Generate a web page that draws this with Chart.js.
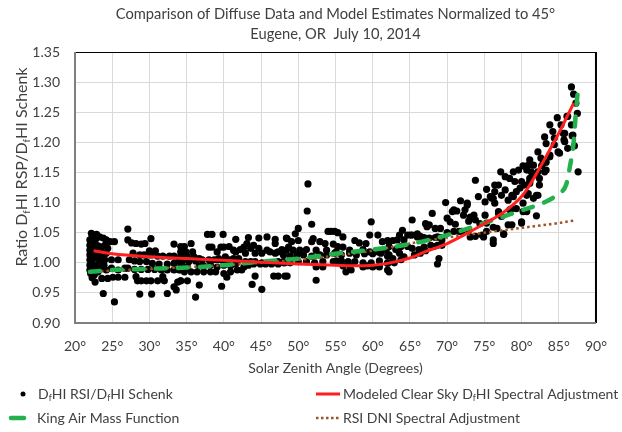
<!DOCTYPE html>
<html>
<head>
<meta charset="utf-8">
<script src="https://cdn.jsdelivr.net/npm/chart.js@4.4.0/dist/chart.umd.min.js"></script>
<style>
  html, body { margin: 0; padding: 0; background: #fff; }
  #wrap { width: 622px; height: 432px; }
</style>
</head>
<body>
<div id="wrap"><canvas id="chart" width="622" height="432"></canvas></div>
<script>
// Ejes
const zenithTicks = [20, 25, 30, 35, 40, 45, 50, 55, 60, 65, 70, 75, 80, 85, 90];
const ratioTicks = [0.90, 0.95, 1.00, 1.05, 1.10, 1.15, 1.20, 1.25, 1.30, 1.35];

// Titulo del grafico
const chartTitle = ['Comparison of Diffuse Data and Model Estimates Normalized to 45°', 'Eugene, OR  July 10, 2014'];

// DfHI RSI / DfHI Schenk  [angulo cenital, cociente]
const rsiSchenk = [
    // 22-35
    [22.2,1.049],[22.9,1.047],[23.3,1.043],[23.8,1.041],[24.2,1.038],[24.7,1.035],[25.3,1.035],
    [22.0,1.038],[22.0,1.029],[22.0,1.021],[22.0,1.013],[22.0,1.005],[22.0,0.996],[22.0,0.988],[22.1,0.982],
    [22.7,1.032],[23.1,1.028],[23.6,1.026],[24.0,1.029],[24.4,1.024],
    [22.7,1.018],[23.6,1.016],[24.2,1.016],
    [22.4,1.007],[23.1,1.007],[24.0,1.005],[24.9,1.005],[25.8,1.005],
    [22.4,0.993],[23.3,0.991],[24.2,0.988],[24.9,0.991],[25.8,0.988],[26.7,0.991],
    [22.7,0.968],[23.6,0.974],[24.4,0.974],[25.1,0.976],[25.8,0.976],[26.7,0.976],
    [22.3,1.043],[22.5,1.036],[22.8,1.040],[23.0,1.022],[22.5,1.024],[22.9,1.012],[23.4,1.020],[23.8,1.010],
    [22.3,0.999],[22.8,0.996],[23.3,0.999],[23.9,0.996],[22.6,0.980],[23.1,0.985],[22.3,0.975],
    [23.8,0.949],[25.3,0.935],
    [27.1,1.056],[27.1,1.038],[27.6,1.033],[28.2,1.032],[28.9,1.031],[29.4,1.032],[30.2,1.040],[30.0,1.020],[30.8,1.020],[33.3,1.031],[34.2,1.027],[34.4,1.020],
    [27.8,1.016],[28.7,1.013],[29.3,1.013],[30.2,1.013],[31.1,1.011],[31.8,1.011],[32.7,1.011],[33.3,1.011],[34.2,1.011],
    [27.3,1.005],[28.0,1.003],[28.7,1.002],[29.6,1.002],[30.4,0.999],[31.3,0.998],[32.4,0.998],[33.3,0.999],[34.2,0.998],
    [27.1,0.991],[28.0,0.989],[28.9,0.989],[29.8,0.989],[30.7,0.989],[31.6,0.988],[32.4,0.988],[33.3,0.988],[34.2,0.988],[34.7,0.988],
    [28.2,0.977],[28.4,0.970],[28.9,0.970],[29.6,0.970],[30.2,0.970],[31.1,0.970],[31.8,0.977],[32.0,0.970],[33.3,0.960],[33.8,0.968],[34.2,0.970],[33.6,0.955],
    [28.7,0.948],[30.3,0.948],[32.4,0.949],
    // 34-48
    [37.8,1.047],[38.4,1.047],[39.9,1.047],
    [41.6,1.039],[43.3,1.042],[44.7,1.041],[45.8,1.043],[46.9,1.039],[48.4,1.041],
    [35.6,1.032],[34.7,1.027],[43.1,1.032],[44.0,1.029],[46.9,1.032],
    [38.0,1.026],[38.4,1.026],[39.6,1.026],[40.0,1.026],[40.7,1.027],[41.3,1.021],[42.2,1.022],[42.7,1.026],[43.6,1.024],[44.7,1.024],[45.8,1.021],[46.2,1.018],[47.3,1.018],[47.8,1.022],[48.7,1.026],
    [34.2,1.018],[34.9,1.018],[35.8,1.018],[39.1,1.018],[41.6,1.018],[42.9,1.016],[44.2,1.016],[45.1,1.016],[46.9,1.016],
    [34.4,1.013],[35.1,1.010],[36.0,1.010],[36.7,1.007],[39.3,1.007],[40.2,1.010],[41.3,1.007],[42.0,1.007],
    [34.0,1.004],[34.7,1.005],[35.3,1.002],[36.2,1.003],[37.1,1.005],[38.0,1.005],[38.7,1.005],[39.3,1.005],[40.0,1.003],[40.7,1.005],[41.8,1.002],[42.9,1.002],[43.6,1.002],[44.2,1.002],[45.1,1.000],[45.8,1.000],[46.7,1.000],[47.3,1.002],[48.0,1.000],[48.7,1.003],
    [34.4,0.996],[35.1,0.993],[36.7,0.995],[37.3,0.995],[38.2,0.996],[39.1,0.993],[40.0,0.996],[40.9,0.995],[41.6,0.998],[42.7,0.993],[43.3,0.996],[44.0,0.998],[44.9,0.998],[45.6,0.998],[46.4,0.998],[47.3,0.998],[48.2,1.000],
    [34.0,0.988],[34.7,0.985],[35.6,0.985],[36.4,0.985],[37.3,0.985],[38.2,0.985],[38.9,0.985],[40.0,0.982],[40.9,0.985],[41.8,0.988],[42.4,0.988],
    [40.4,0.976],[44.2,0.978],[46.7,0.978],[47.3,0.978],[48.2,0.978],
    [34.2,0.970],[35.1,0.970],[36.7,0.963],[39.7,0.961],[43.8,0.964],[45.1,0.956],[36.2,0.943],
    // 48-62
    [51.3,1.131],[51.2,1.086],[51.8,1.064],[50.0,1.057],[49.6,1.048],[48.5,1.040],[49.1,1.035],[50.0,1.037],[52.0,1.040],[51.8,1.035],
    [54.0,1.052],[54.4,1.052],[54.9,1.052],[55.3,1.050],[56.0,1.043],
    [52.9,1.035],[53.6,1.032],[54.7,1.031],[55.3,1.027],[56.0,1.026],[56.9,1.021],[57.6,1.037],[58.2,1.033],[59.1,1.032],[59.8,1.068],[59.6,1.046],[60.7,1.046],[61.3,1.035],[62.2,1.035],
    [48.4,1.021],[49.3,1.021],[50.2,1.021],[51.1,1.022],[52.4,1.021],[53.8,1.021],[55.1,1.018],[58.7,1.022],[59.6,1.018],[60.7,1.018],[61.8,1.021],
    [48.0,1.013],[48.9,1.011],[49.8,1.013],[50.7,1.013],[51.8,1.011],[52.9,1.013],[53.8,1.013],[54.9,1.016],[55.8,1.013],[56.9,1.016],[57.8,1.013],[58.9,1.015],[60.0,1.015],[61.1,1.016],[62.2,1.013],
    [48.0,1.002],[48.9,1.000],[50.0,1.002],[51.1,1.002],[52.2,1.000],[53.3,1.002],[54.7,1.002],[55.8,1.003],[56.7,1.002],[57.6,1.002],[58.7,1.000],[59.8,1.000],[60.9,1.003],[62.0,1.000],
    [52.4,0.993],[53.3,0.993],[55.1,1.003],[56.0,0.995],[56.9,0.995],[58.7,0.993],[59.3,0.995],[60.0,0.993],[60.9,0.993],
    [62.2,0.985],[48.5,0.978],[52.4,0.971],[56.4,0.985],[57.1,0.988],
    // 62-76
    [73.8,1.137],[75.3,1.122],[76.4,1.129],[74.2,1.110],[75.1,1.101],[76.2,1.107],[69.8,1.100],[71.8,1.103],[72.7,1.096],[72.4,1.088],[70.9,1.088],[71.3,1.086],[72.2,1.079],[73.1,1.076],[73.8,1.071],
    [70.0,1.074],[70.4,1.068],[71.1,1.064],[72.9,1.069],[74.4,1.065],[75.3,1.066],[76.2,1.059],[68.0,1.082],[65.3,1.071],[67.1,1.065],[67.6,1.063],[68.4,1.057],[69.1,1.057],[70.0,1.050],[70.9,1.052],
    [72.0,1.052],[72.9,1.054],[73.8,1.044],[74.7,1.046],[75.3,1.052],[64.0,1.054],[64.7,1.046],[65.3,1.046],[66.0,1.048],[66.4,1.044],[66.9,1.042],[67.6,1.041],[68.4,1.042],[69.1,1.042],
    [62.0,1.037],[62.7,1.037],[63.3,1.038],[64.2,1.038],[62.2,1.027],[63.1,1.022],[63.8,1.027],[64.7,1.027],[65.3,1.024],[66.2,1.022],[66.9,1.026],[67.8,1.029],[68.7,1.029],[69.3,1.029],
    [62.0,1.011],[62.7,1.007],[63.6,1.016],[64.2,1.010],[65.6,1.013],[66.4,1.016],[67.1,1.020],[62.0,0.999],[62.9,1.000],[63.8,1.005],[68.9,1.007],[68.7,0.998],[62.0,0.988],
    [76.2,1.032],[77.6,1.048],[80.0,1.066],[82.0,1.078],[80.7,1.085],
    [72.7,1.099],[70.7,1.085],[73.6,1.079],[75.1,1.079],[76.9,1.082],[78.7,1.090],[80.2,1.085],[78.2,1.063],
    [74.9,1.043],[73.1,1.043],[71.6,1.052],[68.7,1.043],[67.3,1.060],[63.6,1.046],[65.1,1.046],[66.0,1.043],[66.9,1.040],[68.2,1.027],[69.3,1.038],
    // 76-88
    [86.7,1.292],[87.0,1.280],[87.3,1.265],[87.5,1.248],[87.6,1.151],[87.1,1.194],[86.1,1.243],[84.8,1.241],[85.3,1.229],[83.8,1.229],[84.2,1.218],[83.1,1.209],[84.4,1.207],[85.8,1.215],
    [86.8,1.211],[85.7,1.204],[83.3,1.198],[84.4,1.196],[86.2,1.190],[85.1,1.182],[83.8,1.179],[82.6,1.174],[83.3,1.167],[81.6,1.162],[80.9,1.162],[80.2,1.161],[80.7,1.154],[79.6,1.154],
    [78.9,1.151],[77.2,1.151],[77.8,1.143],[78.4,1.140],[79.1,1.135],[80.0,1.135],[81.3,1.151],[82.2,1.151],[83.1,1.151],[82.7,1.161],[81.8,1.146],[81.1,1.140],[80.4,1.129],[79.8,1.124],
    [76.9,1.129],[77.8,1.121],[76.4,1.118],[77.3,1.112],[79.3,1.118],[78.7,1.112],[80.9,1.115],[82.2,1.112],[81.6,1.107],[76.0,1.107],[76.4,1.099],[78.2,1.104],[80.2,1.099],[79.3,1.090],
    [78.4,1.088],[76.9,1.085],[77.3,1.077],[78.7,1.063],[80.0,1.068],[76.7,1.057],[77.6,1.047],[76.2,1.038],[82.4,1.129],[81.1,1.135],
    [81.1,1.171],[83.3,1.154],[82.2,1.184],[85.6,1.215],[85.8,1.201],[86.2,1.243],[86.9,1.212],[86.7,1.229],[84.9,1.184],[83.8,1.176],
    [82.9,1.165],[82.4,1.140],[81.1,1.132],[80.7,1.112],[82.0,1.112],[78.9,1.110],[75.8,1.110]
];

// Curvas de modelo [angulo cenital, cociente]
const clearSkyModel = [
    [22.5,1.020],[25,1.015],[30,1.010],[35,1.007],[40,1.004],[45,1.001],[50,0.998],[55,0.996],[58,0.995],
    [60,0.996],[62,0.999],[65,1.008],[67,1.018],[70,1.032],[73,1.051],[75,1.065],[77.5,1.083],[80,1.110],
    [81,1.127],[83,1.170],[85,1.215],[86,1.240],[87,1.265]
];
const kingAirMass = [
    [22,0.985],[25,0.988],[30,0.990],[35,0.992],[40,0.996],[45,1.002],[50,1.007],[55,1.015],[60,1.022],
    [65,1.031],[70,1.046],[75,1.066],[80,1.087],[83,1.100],[85,1.115],[86,1.130],[86.5,1.160],[87,1.200],
    [87.3,1.250],[87.6,1.290]
];
const rsiDniAdjust = [
    [22,0.985],[30,0.990],[40,0.996],[50,1.005],[55,1.012],[60,1.020],[65,1.032],[70,1.042],[75,1.050],
    [80,1.058],[85,1.066],[87,1.070]
];

const FONT = 'Lato';
const TXT = '#404040';

// Texto con subindices: [texto, esSubindice]
function drawRich(ctx, parts, x, y, size, align) {
    let width = 0;
    parts.forEach(p => {
        ctx.font = (p[1] ? size * 0.62 : size) + 'px ' + FONT;
        width += ctx.measureText(p[0]).width;
    });
    let cx = align === 'center' ? x - width / 2 : x;
    parts.forEach(p => {
        const s = p[1] ? size * 0.62 : size;
        ctx.font = s + 'px ' + FONT;
        ctx.fillText(p[0], cx, p[1] ? y + size * 0.28 : y);
        cx += ctx.measureText(p[0]).width;
    });
}

const yTitleParts = [['Ratio D', false], ['f', true], ['HI RSP/D', false], ['f', true], ['HI Schenk', false]];

const legendItems = [
    { x: 23, y: 394, kind: 'dot', parts: [['D', false], ['f', true], ['HI RSI/D', false], ['f', true], ['HI Schenk', false]] },
    { x: 316, y: 394, kind: 'red', parts: [['Modeled Clear Sky D', false], ['f', true], ['HI Spectral Adjustment', false]] },
    { x: 10, y: 418, kind: 'green', parts: [['King Air Mass Function', false]] },
    { x: 316, y: 418, kind: 'brown', parts: [['RSI DNI Spectral Adjustment', false]] }
];

const extrasPlugin = {
    id: 'extras',
    afterDatasetsDraw(chart) {
        const ctx = chart.ctx;
        const a = chart.chartArea;
        ctx.save();
        // marco del area de trazado
        ctx.strokeStyle = '#000';
        ctx.lineWidth = 1.2;
        ctx.beginPath();
        ctx.moveTo(a.left, a.top + 0.5);
        ctx.lineTo(a.right, a.top + 0.5);
        ctx.stroke();
        ctx.lineWidth = 2;
        ctx.beginPath();
        ctx.moveTo(a.right, a.top);
        ctx.lineTo(a.right, a.bottom);
        ctx.stroke();
        ctx.strokeStyle = '#7f7f7f';
        ctx.lineWidth = 2;
        ctx.beginPath();
        ctx.moveTo(a.left, a.top);
        ctx.lineTo(a.left, a.bottom);
        ctx.lineTo(a.right, a.bottom);
        ctx.stroke();
        ctx.restore();
    },
    afterDraw(chart) {
        const ctx = chart.ctx;
        const a = chart.chartArea;
        ctx.save();
        ctx.fillStyle = TXT;
        ctx.textBaseline = 'middle';
        // titulo centrado sobre el area de trazado
        ctx.textAlign = 'center';
        ctx.font = '14.7px ' + FONT;
        ctx.fillText(chartTitle[0], (a.left + a.right) / 2, 14);
        ctx.fillText(chartTitle[1], (a.left + a.right) / 2, 34);
        ctx.textAlign = 'left';
        // titulo del eje Y
        ctx.save();
        ctx.translate(22, 167);
        ctx.rotate(-Math.PI / 2);
        drawRich(ctx, yTitleParts, 0, 0, 16, 'center');
        ctx.restore();
        // leyenda
        legendItems.forEach(item => {
            ctx.save();
            if (item.kind === 'dot') {
                ctx.fillStyle = '#000';
                ctx.beginPath();
                ctx.arc(item.x, item.y, 2.5, 0, Math.PI * 2);
                ctx.fill();
            } else if (item.kind === 'red') {
                ctx.strokeStyle = '#ff1f1f';
                ctx.lineWidth = 3;
                ctx.beginPath();
                ctx.moveTo(item.x, item.y);
                ctx.lineTo(item.x + 24, item.y);
                ctx.stroke();
            } else if (item.kind === 'green') {
                ctx.strokeStyle = '#22b14c';
                ctx.lineWidth = 4.5;
                ctx.lineCap = 'round';
                ctx.beginPath();
                ctx.moveTo(item.x + 1, item.y);
                ctx.lineTo(item.x + 14, item.y);
                ctx.stroke();
            } else {
                ctx.strokeStyle = '#9c5224';
                ctx.lineWidth = 2.5;
                ctx.setLineDash([2.5, 2.5]);
                ctx.beginPath();
                ctx.moveTo(item.x, item.y);
                ctx.lineTo(item.x + 24, item.y);
                ctx.stroke();
            }
            ctx.restore();
            const tx = item.kind === 'dot' ? 38 : item.kind === 'green' ? 37 : 343;
            drawRich(ctx, item.parts, tx, item.y, 14, 'left');
        });
        ctx.restore();
    }
};

function toPoints(pairs) {
    return pairs.map(p => ({ x: p[0], y: p[1] }));
}

const ctx = document.getElementById('chart').getContext('2d');
const chart = new Chart(ctx, {
    type: 'scatter',
    data: {
        datasets: [
            {
                label: 'DfHI RSI/DfHI Schenk',
                data: toPoints(rsiSchenk),
                backgroundColor: '#000',
                borderWidth: 0,
                pointRadius: 3.6,
                order: 4
            },
            {
                label: 'RSI DNI Spectral Adjustment',
                data: toPoints(rsiDniAdjust),
                showLine: true,
                borderColor: '#9c5224',
                borderWidth: 2.5,
                borderDash: [2.5, 3],
                pointRadius: 0,
                cubicInterpolationMode: 'monotone',
                order: 3
            },
            {
                label: 'King Air Mass Function',
                data: toPoints(kingAirMass),
                showLine: true,
                borderColor: '#22b14c',
                borderWidth: 4.5,
                borderDash: [10, 12],
                borderCapStyle: 'round',
                pointRadius: 0,
                cubicInterpolationMode: 'monotone',
                order: 2
            },
            {
                label: 'Modeled Clear Sky DfHI Spectral Adjustment',
                data: toPoints(clearSkyModel),
                showLine: true,
                borderColor: '#ff1f1f',
                borderWidth: 3,
                pointRadius: 0,
                cubicInterpolationMode: 'monotone',
                order: 1
            }
        ]
    },
    options: {
        responsive: false,
        animation: false,
        layout: { padding: { left: 0, right: 22, top: 52, bottom: 51 } },
        plugins: {
            legend: { display: false },
            tooltip: { enabled: false },
            title: { display: false }
        },
        scales: {
            x: {
                type: 'linear',
                min: 20,
                max: 90,
                afterBuildTicks: scale => { scale.ticks = zenithTicks.map(v => ({ value: v })); },
                afterFit: scale => { scale.height = 58; },
                ticks: {
                    callback: v => v + '°',
                    color: TXT,
                    font: { family: FONT, size: 14 },
                    padding: 15,
                    maxRotation: 0
                },
                grid: { color: '#d9d9d9', lineWidth: 1, drawTicks: false },
                border: { display: false },
                title: {
                    display: true,
                    text: 'Solar Zenith Angle (Degrees)',
                    color: TXT,
                    font: { family: FONT, size: 14, lineHeight: 1.2 },
                    padding: { top: 4, bottom: 4 }
                }
            },
            y: {
                type: 'linear',
                min: 0.9,
                max: 1.35,
                afterBuildTicks: scale => { scale.ticks = ratioTicks.map(v => ({ value: v })); },
                afterFit: scale => { scale.width = 75; },
                ticks: {
                    callback: v => v.toFixed(2),
                    color: TXT,
                    font: { family: FONT, size: 14 },
                    padding: 15
                },
                grid: { color: '#d9d9d9', lineWidth: 1, drawTicks: false },
                border: { display: false }
            }
        }
    },
    plugins: [extrasPlugin]
});
</script>
</body>
</html>
